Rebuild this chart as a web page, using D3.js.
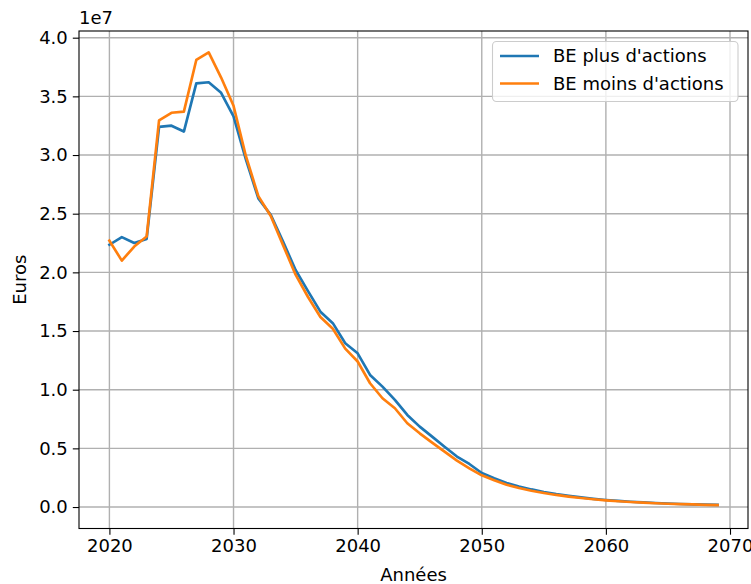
<!DOCTYPE html>
<html>
<head>
<meta charset="utf-8">
<script src="https://cdn.jsdelivr.net/npm/d3@7"></script>
<style>
  body { margin: 0; background: #fff; }
  svg { display: block; }
  text { font-family: "DejaVu Sans", sans-serif; fill: #000; }
</style>
</head>
<body>
<script>
const years = d3.range(2020, 2070);
const bePlus = [
  2.235, 2.30, 2.25, 2.285, 3.24, 3.25, 3.20, 3.61, 3.62, 3.53,
  3.33, 2.96, 2.63, 2.49, 2.26, 2.02, 1.84, 1.665, 1.567, 1.396,
  1.31, 1.126, 1.026, 0.913, 0.785, 0.685, 0.60, 0.514, 0.43, 0.367,
  0.29, 0.245, 0.205, 0.175, 0.15, 0.128, 0.11, 0.095, 0.082, 0.07,
  0.06, 0.052, 0.045, 0.039, 0.034, 0.03, 0.026, 0.023, 0.02, 0.018
].map(v => v * 1e7);
const beMoins = [
  2.27, 2.10, 2.22, 2.305, 3.295, 3.36, 3.37, 3.81, 3.875, 3.66,
  3.42, 2.99, 2.65, 2.48, 2.23, 1.98, 1.79, 1.62, 1.52, 1.35,
  1.24, 1.055, 0.927, 0.842, 0.714, 0.628, 0.549, 0.472, 0.395, 0.33,
  0.27, 0.228, 0.19, 0.162, 0.139, 0.12, 0.103, 0.089, 0.077, 0.066,
  0.057, 0.049, 0.043, 0.037, 0.032, 0.028, 0.025, 0.022, 0.019, 0.017
].map(v => v * 1e7);
const seriesNames = ["BE plus d'actions", "BE moins d'actions"];
const colors = ["#1f77b4", "#ff7f0e"];
const xTicks = [2020, 2030, 2040, 2050, 2060, 2070];
const yTicks = [0, 0.5e7, 1e7, 1.5e7, 2e7, 2.5e7, 3e7, 3.5e7, 4e7];
const yTickLabels = ["0.0", "0.5", "1.0", "1.5", "2.0", "2.5", "3.0", "3.5", "4.0"];

const W = 751, H = 584;
const L = 79, R = 748, T = 31, B = 528.5;
const fs = 18;

const svg = d3.select("body").append("svg").attr("width", W).attr("height", H);

const x = d3.scaleLinear().domain([2017.55, 2071.45]).range([L, R]);
const y = d3.scaleLinear().domain([-0.183e7, 4.057e7]).range([B, T]);

// grid
const g = svg.append("g");
g.selectAll("line.gx").data(xTicks).join("line")
  .attr("x1", d => x(d)).attr("x2", d => x(d)).attr("y1", T).attr("y2", B)
  .attr("stroke", "#b0b0b0").attr("stroke-width", 1.4);
g.selectAll("line.gy").data(yTicks).join("line")
  .attr("y1", d => y(d)).attr("y2", d => y(d)).attr("x1", L).attr("x2", R)
  .attr("stroke", "#b0b0b0").attr("stroke-width", 1.4);

// lines
const line = d3.line().x((d, i) => x(years[i])).y(d => y(d));
[bePlus, beMoins].forEach((s, i) => {
  svg.append("path").datum(s).attr("d", line)
    .attr("fill", "none").attr("stroke", colors[i]).attr("stroke-width", 2.66)
    .attr("stroke-linejoin", "round").attr("stroke-linecap", "square");
});

// axes
const xAxis = d3.axisBottom(x).tickValues(xTicks).tickFormat(d3.format("d")).tickSize(6.2).tickPadding(5);
const yAxis = d3.axisLeft(y).tickValues(yTicks).tickFormat((d, i) => yTickLabels[i]).tickSize(6.2).tickPadding(5);
const gx = svg.append("g").attr("transform", `translate(0,${B})`).call(xAxis);
const gy = svg.append("g").attr("transform", `translate(${L},0)`).call(yAxis);
[gx, gy].forEach(a => {
  a.select(".domain").remove();
  a.selectAll("line").attr("stroke", "#000").attr("stroke-width", 1.1);
  a.selectAll("text").attr("font-size", fs).attr("font-family", "DejaVu Sans").attr("fill", "#000");
});

// frame
svg.append("rect").attr("x", L).attr("y", T).attr("width", R - L).attr("height", B - T)
  .attr("fill", "none").attr("stroke", "#000").attr("stroke-width", 1.1);

// offset text and labels
svg.append("text").attr("x", L).attr("y", 24).attr("font-size", fs).text("1e7");
svg.append("text").attr("transform", `translate(26,${(T + B) / 2}) rotate(-90)`)
  .attr("text-anchor", "middle").attr("font-size", fs).text("Euros");
svg.append("text").attr("x", (L + R) / 2).attr("y", 581).attr("text-anchor", "middle")
  .attr("font-size", fs).text("Années");

// legend
const lg = svg.append("g");
lg.append("rect").attr("x", 492.5).attr("y", 41.5).attr("width", 245.5).attr("height", 60)
  .attr("rx", 4).attr("fill", "#fff").attr("fill-opacity", 0.8)
  .attr("stroke", "#cccccc").attr("stroke-width", 1.1);
seriesNames.forEach((n, i) => {
  const cy = 56 + i * 27.5;
  lg.append("line").attr("x1", 500).attr("x2", 539).attr("y1", cy).attr("y2", cy)
    .attr("stroke", colors[i]).attr("stroke-width", 2.66);
  lg.append("text").attr("x", 553).attr("y", cy).attr("dy", "0.35em")
    .attr("font-size", fs).text(n);
});
</script>
</body>
</html>
